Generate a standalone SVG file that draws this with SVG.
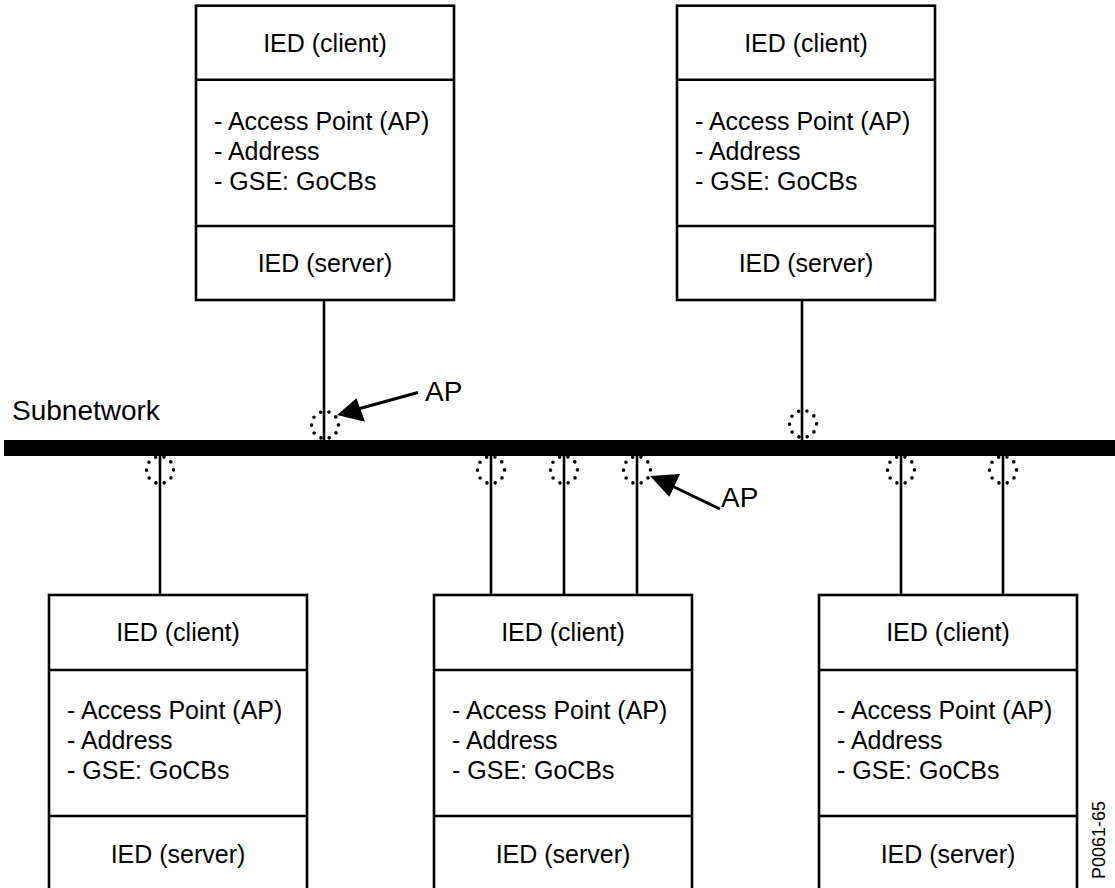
<svg xmlns="http://www.w3.org/2000/svg" width="1115" height="888" viewBox="0 0 1115 888">
<style>
.box{fill:#fff;stroke:#000;stroke-width:2.6}
.div{stroke:#000;stroke-width:2.6}
.t{font-family:"Liberation Sans",Arial,sans-serif;font-size:25px;fill:#000}
.c{text-anchor:middle}
.wire{stroke:#000;stroke-width:2.6;fill:none}
.ap{fill:none;stroke:#000;stroke-width:3.6;stroke-linecap:round;stroke-dasharray:0 8.4}
.lbl{font-family:"Liberation Sans",Arial,sans-serif;font-size:28px;fill:#000}
</style>
<rect width="1115" height="888" fill="#fff"/>
<g id="connectors">
<rect x="4" y="440" width="1111" height="16" fill="#000"/>
<line class="wire" x1="324" y1="300" x2="324" y2="440"/>
<line class="wire" x1="802" y1="300" x2="802" y2="440"/>
<line class="wire" x1="160" y1="456" x2="160" y2="595"/>
<line class="wire" x1="491" y1="456" x2="491" y2="595"/>
<line class="wire" x1="564" y1="456" x2="564" y2="595"/>
<line class="wire" x1="637" y1="456" x2="637" y2="595"/>
<line class="wire" x1="901" y1="456" x2="901" y2="595"/>
<line class="wire" x1="1003" y1="456" x2="1003" y2="595"/>
<circle class="ap" cx="325" cy="425" r="13.5"/>
<circle class="ap" cx="803" cy="424" r="13.5"/>
<circle class="ap" cx="160" cy="470" r="13.5"/>
<circle class="ap" cx="491" cy="470" r="13.5"/>
<circle class="ap" cx="564" cy="470" r="13.5"/>
<circle class="ap" cx="637" cy="470" r="13.5"/>
<circle class="ap" cx="901" cy="470" r="13.5"/>
<circle class="ap" cx="1003" cy="470" r="13.5"/>
<line x1="418" y1="392.5" x2="358" y2="409" stroke="#000" stroke-width="3"/>
<polygon points="337,415 356.5,398.3 365,421.7" fill="#000"/>
<line x1="720" y1="509" x2="670" y2="485" stroke="#000" stroke-width="3"/>
<polygon points="650,476 680,474 669.3,496.7" fill="#000"/>
</g>
<g id="labels">
<text class="lbl" x="12" y="420">Subnetwork</text>
<text class="lbl" x="425" y="401">AP</text>
<text class="lbl" x="721" y="507">AP</text>
<text class="t" transform="translate(1105,879) rotate(-90)" style="font-size:18px">P0061-65</text>
</g>
<g id="ied1">
<rect class="box" x="196" y="5.7" width="258" height="294.3"/>
<line class="div" x1="196" y1="79.7" x2="454" y2="79.7"/>
<line class="div" x1="196" y1="226" x2="454" y2="226"/>
<text class="t c" x="325" y="51.5">IED (client)</text>
<text class="t" x="214" y="129.7">- Access Point (AP)</text>
<text class="t" x="214" y="159.7">- Address</text>
<text class="t" x="214" y="189.7">- GSE: GoCBs</text>
<text class="t c" x="325" y="272">IED (server)</text>
</g>
<g id="ied2">
<rect class="box" x="677" y="5.7" width="258" height="294.3"/>
<line class="div" x1="677" y1="79.7" x2="935" y2="79.7"/>
<line class="div" x1="677" y1="226" x2="935" y2="226"/>
<text class="t c" x="806" y="51.5">IED (client)</text>
<text class="t" x="695" y="129.7">- Access Point (AP)</text>
<text class="t" x="695" y="159.7">- Address</text>
<text class="t" x="695" y="189.7">- GSE: GoCBs</text>
<text class="t c" x="806" y="272">IED (server)</text>
</g>
<g id="ied3">
<rect class="box" x="49" y="595" width="258" height="310"/>
<line class="div" x1="49" y1="670" x2="307" y2="670"/>
<line class="div" x1="49" y1="816" x2="307" y2="816"/>
<text class="t c" x="178" y="640.5">IED (client)</text>
<text class="t" x="67" y="719">- Access Point (AP)</text>
<text class="t" x="67" y="749">- Address</text>
<text class="t" x="67" y="779">- GSE: GoCBs</text>
<text class="t c" x="178" y="863">IED (server)</text>
</g>
<g id="ied4">
<rect class="box" x="434" y="595" width="258" height="310"/>
<line class="div" x1="434" y1="670" x2="692" y2="670"/>
<line class="div" x1="434" y1="816" x2="692" y2="816"/>
<text class="t c" x="563" y="640.5">IED (client)</text>
<text class="t" x="452" y="719">- Access Point (AP)</text>
<text class="t" x="452" y="749">- Address</text>
<text class="t" x="452" y="779">- GSE: GoCBs</text>
<text class="t c" x="563" y="863">IED (server)</text>
</g>
<g id="ied5">
<rect class="box" x="819" y="595" width="258" height="310"/>
<line class="div" x1="819" y1="670" x2="1077" y2="670"/>
<line class="div" x1="819" y1="816" x2="1077" y2="816"/>
<text class="t c" x="948" y="640.5">IED (client)</text>
<text class="t" x="837" y="719">- Access Point (AP)</text>
<text class="t" x="837" y="749">- Address</text>
<text class="t" x="837" y="779">- GSE: GoCBs</text>
<text class="t c" x="948" y="863">IED (server)</text>
</g>
</svg>
